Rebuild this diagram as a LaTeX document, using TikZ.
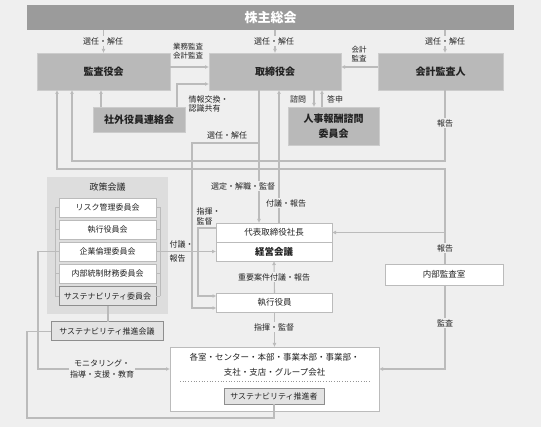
\documentclass[tikz,border=0pt]{standalone}
\usepackage{fontspec}
\setmainfont{Noto Sans CJK JP}
\usetikzlibrary{arrows.meta,calc}
\definecolor{bg}{HTML}{EFEFEF}
\definecolor{dkbar}{HTML}{9B9B9B}
\definecolor{gbox}{HTML}{B9B9B9}
\definecolor{gedge}{HTML}{CCCCCC}
\definecolor{gline}{HTML}{BBBBBB}
\definecolor{region}{HTML}{DDDDDD}
\definecolor{sbox}{HTML}{E3E3E3}
\definecolor{sedge}{HTML}{8E8E8E}
\definecolor{txt}{HTML}{222222}
\begin{document}
\begin{tikzpicture}[x=1pt,y=-1pt,
  every node/.style={inner sep=0pt, outer sep=0pt, text=txt, align=center},
  graybox/.style={fill=gbox, draw=gedge, line width=0.8pt, font=\fontsize{10}{15}\selectfont\bfseries},
  whitebox/.style={fill=white, draw=gline, line width=0.8pt, font=\fontsize{8}{10}\selectfont},
  susbox/.style={fill=sbox, draw=sedge, line width=1pt, font=\fontsize{8}{10}\selectfont},
  lbl/.style={font=\fontsize{8}{10.5}\selectfont, fill=bg, inner sep=1pt},
  slbl/.style={font=\fontsize{7.5}{9}\selectfont, inner sep=0.5pt},
  con/.style={draw=gline, line width=1.1pt},
  arr/.style={con, -{Latex[length=4pt,width=4pt]}},
]
\fill[bg] (0,0) rectangle (541,427);
\useasboundingbox (0,0) rectangle (541,427);

% x positions
\coordinate (x27) at (27,0);
\coordinate (x38) at (38,0);
\coordinate (x57) at (57,0);
\coordinate (x72) at (72,0);
\coordinate (x101) at (101,0);
\coordinate (x108) at (108,0);
\coordinate (x177) at (177,0);
\coordinate (x192) at (192,0);
\coordinate (x198) at (198,0);
\coordinate (x259) at (259,0);
\coordinate (x274) at (274,0);
\coordinate (x279) at (279,0);
\coordinate (x314) at (314,0);
\coordinate (x322) at (322,0);
\coordinate (kx) at (445,0);

% nodes
\node[fill=dkbar, minimum width=487pt, minimum height=25pt, font=\fontsize{13}{15}\selectfont\bfseries, text=white] (sh) at (270.5,17.5) {株主総会};
\node[graybox, minimum width=133pt, minimum height=37pt] (kansa) at (103.5,71.5) {監査役会};
\node[graybox, minimum width=132pt, minimum height=37pt] (tori) at (275,71.5) {取締役会};
\node[graybox, minimum width=125pt, minimum height=37pt] (kaikei) at (440.5,71.5) {会計監査人};
\node[graybox, minimum width=92pt, minimum height=25pt] (shagai) at (139,119.5) {社外役員連絡会};
\node[graybox, minimum width=91pt, minimum height=38pt] (jinji) at (333.5,126) {人事報酬諮問\\委員会};

\node[fill=region, minimum width=121pt, minimum height=137pt] (seisaku) at (107.5,245.5) {};
\node[font=\fontsize{9}{11}\selectfont] (seisakuL) at (107.5,187) {政策会議};
\node[whitebox, minimum width=97pt, minimum height=19pt] (risk) at (107.5,207.5) {リスク管理委員会};
\node[whitebox, minimum width=97pt, minimum height=19pt] (shikkokai) at (107.5,229.5) {執行役員会};
\node[whitebox, minimum width=97pt, minimum height=19pt] (rinri) at (107.5,251.5) {企業倫理委員会};
\node[whitebox, minimum width=97pt, minimum height=19pt] (naibu) at (107.5,273.5) {内部統制財務委員会};
\node[susbox, minimum width=97pt, minimum height=19pt] (susi) at (107.5,296.5) {サステナビリティ委員会};
\node[susbox, minimum width=112pt, minimum height=19pt] (suskaigi) at (107,331.5) {サステナビリティ推進会議};

\node[whitebox, minimum width=116pt, minimum height=19pt, font=\fontsize{8.5}{10}\selectfont] (daihyo) at (274,232.5) {代表取締役社長};
\node[whitebox, minimum width=116pt, minimum height=19pt, font=\fontsize{9.5}{11}\selectfont\bfseries] (keiei) at (274,251.5) {経営会議};
\node[whitebox, minimum width=116pt, minimum height=19pt, font=\fontsize{8.5}{10}\selectfont] (shikko) at (274.5,302.5) {執行役員};
\node[whitebox, minimum width=118pt, minimum height=21pt, font=\fontsize{8.5}{10}\selectfont] (naibukansa) at (444,274.5) {内部監査室};
\node[whitebox, minimum width=209pt, minimum height=64pt] (kakushitsu) at (274.5,379) {};
\node[font=\fontsize{8.5}{14.5}\selectfont] (kakuT) at (274.5,364.5) {各室・センター・本部・事業本部・事業部・\\支社・支店・グループ会社};
\coordinate (dotL) at (180,381);
\coordinate (dotR) at (370,381);
\draw[gline!80!black, dotted, line width=0.7pt] (dotL) -- (dotR);
\node[susbox, minimum width=100pt, minimum height=16pt] (suishinsha) at (274,396.5) {サステナビリティ推進者};

% brackets of policy meeting
\coordinate (bLt) at (55,207.5);
\coordinate (bLb) at (55,296.5);
\coordinate (bRt) at (160,207.5);
\coordinate (bRb) at (160,296.5);
\draw[draw=gline, line width=0.8pt] (bLt) -- (bLb);
\draw[draw=gline, line width=0.8pt] (bRt) -- (bRb);
\foreach \b in {risk,shikkokai,rinri,naibu,susi}{
  \draw[draw=gline, line width=0.8pt] (\b.west) -- (\b.west -| bLt);
  \draw[draw=gline, line width=0.8pt] (\b.east) -- (\b.east -| bRt);
}

% shareholders -> boards
\draw[arr] (sh.south -| kansa) -- (kansa.north);
\draw[arr] (sh.south -| tori) -- (tori.north);
\draw[arr] (sh.south -| kx) -- (kaikei.north -| kx);
\node[lbl] (l1) at (103,41) {選任・解任};
\node[lbl] (l2) at (274,41) {選任・解任};
\node[lbl] (l3) at (445,41) {選任・解任};

% audit arrows
\draw[arr] ([yshift=4.5pt]kansa.east) -- ([yshift=4.5pt]tori.west);
\node[slbl] (l4) at (188,51) {業務監査\\会計監査};
\draw[arr] ([yshift=4.5pt]kaikei.west) -- ([yshift=4.5pt]tori.east);
\node[slbl] (l5) at (359,54) {会計\\監査};

% outside officers
\coordinate (sgy) at (0,84);
\draw[arr] (shagai.north -| x177) |- (tori.west |- sgy);
\node[slbl, anchor=west, align=left, font=\fontsize{8}{9.5}\selectfont] (l6) at (188,104) {情報交換・\\認識共有};
\draw[arr] (shagai.north -| x101) -- (kansa.south -| x101);

% nomination committee
\draw[arr] (tori.south -| x314) -- (jinji.north -| x314);
\draw[arr] (jinji.north -| x322) -- (tori.south -| x322);
\node[slbl, font=\fontsize{8}{10}\selectfont] (l7) at (298,99) {諮問};
\node[slbl, font=\fontsize{8}{10}\selectfont] (l8) at (335,99) {答申};

% report loops to audit board
\coordinate (ya) at (0,161);
\coordinate (yb) at (0,169);
\draw[arr] (kaikei.south -| kx) -- (kx |- ya) -- (x72 |- ya) -- (kansa.south -| x72);
\node[lbl] (l9) at (445,123) {報告};
\draw[arr] (naibukansa.north -| kx) -- (kx |- yb) -- (x57 |- yb) -- (kansa.south -| x57);
\draw[arr] (kx |- daihyo.east) -- (daihyo.east);
\node[lbl] (l10) at (445,248) {報告};

% board -> president / officers
\coordinate (yc) at (0,143);
\coordinate (yd) at (0,308);
\draw[arr] (tori.south -| x259) -- (daihyo.north -| x259);
\draw[arr] (x259 |- yc) -- (x192 |- yc) -- (x192 |- yd) -- (shikko.west |- yd);
\node[lbl] (l11) at (227,135) {選任・解任};
\node[lbl] (l12) at (243,186) {選定・解職・監督};
\draw[arr] (daihyo.north -| x279) -- (tori.south -| x279);
\node[lbl] (l13) at (286,203) {付議・報告};

% president -> officers
\coordinate (ye) at (0,228);
\coordinate (yf) at (0,296);
\draw[arr] (daihyo.west |- ye) -- (x198 |- ye) -- (x198 |- yf) -- (shikko.west |- yf);
\node[slbl, anchor=west, align=left, font=\fontsize{8}{10}\selectfont] (l14) at (196,216) {指揮・\\監督};
\draw[arr] (shikko.north) -- (keiei.south);
\node[lbl] (l15) at (274,277) {重要案件付議・報告};

% policy -> management meeting
\draw[arr] (bRt |- rinri.east) -- (keiei.west);
\node[slbl, anchor=west, align=left, font=\fontsize{8}{14}\selectfont] (l16) at (169,251) {付議・\\報告};

% monitoring
\coordinate (yg) at (0,369);
\draw[arr] (bLt |- rinri.west) -- (x38 |- rinri.west) -- (x38 |- yg) -- (kakushitsu.west |- yg);
\node[lbl, font=\fontsize{8}{11.5}\selectfont] (l17) at (102,369) {モニタリング・\\指導・支援・教育};

% sustainability
\draw[con] (susi.south -| x108) -- (suskaigi.north -| x108);
\coordinate (yh) at (0,418);
\draw[con] (suishinsha.south) -- (x274 |- yh) -- (x27 |- yh) -- (x27 |- suskaigi.west) -- (suskaigi.west);

% officers -> divisions
\draw[arr] (shikko.south) -- (kakushitsu.north -| shikko);
\node[lbl] (l18) at (274,327) {指揮・監督};
\draw[arr] (naibukansa.south -| kx) -- (kx |- yg) -- (kakushitsu.east |- yg);
\node[lbl] (l19) at (445,323) {監査};
\end{tikzpicture}
\end{document}
